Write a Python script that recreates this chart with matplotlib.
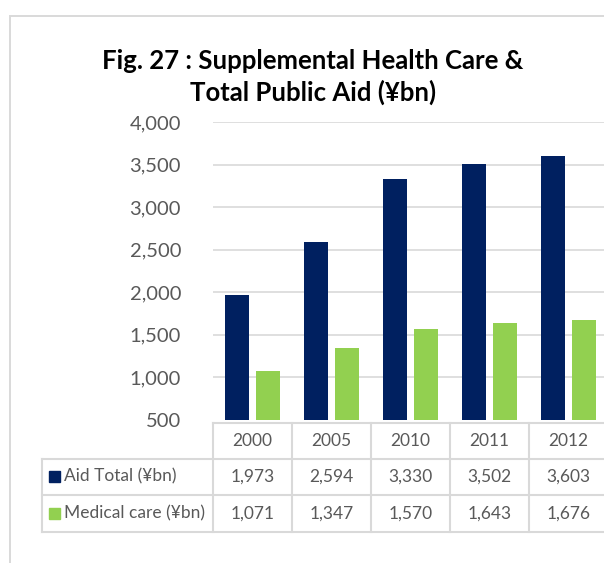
import numpy as np
import matplotlib.pyplot as plt
from matplotlib.lines import Line2D
from matplotlib.patches import Rectangle
from matplotlib.transforms import blended_transform_factory

plt.rcParams['font.family'] = ['Lato', 'DejaVu Sans']

years = ["2000", "2005", "2010", "2011", "2012"]
aid_total = [1973, 2594, 3330, 3502, 3603]
medical_care = [1071, 1347, 1570, 1643, 1676]
series_names = ["Aid Total (¥bn)", "Medical care (¥bn)"]
y_ticks = [500, 1000, 1500, 2000, 2500, 3000, 3500, 4000]

navy = '#002060'
green = '#92D050'
text_grey = '#595959'
line_grey = '#d9d9d9'

W, H = 604, 563
fig = plt.figure(figsize=(W / 100, H / 100), dpi=100)


def fx(px):
    return px / W


def fy(py):
    return 1 - py / H


# outer chart frame (only left and top edges visible)
fig.add_artist(Rectangle((fx(9.6), -0.5), 2, fy(16) + 0.5, transform=fig.transFigure,
                         fill=False, edgecolor=line_grey, lw=1.4))

# title
fig.text(fx(313), fy(69), "Fig. 27 : Supplemental Health Care &", ha='center', va='baseline',
         fontsize=18.5, fontweight='bold', color='black')
fig.text(fx(313), fy(101), "Total Public Aid (¥bn)", ha='center', va='baseline',
         fontsize=18.5, fontweight='bold', color='black')

ax = fig.add_axes([fx(213), fy(420), 395 / W, 298 / H])
x = np.arange(len(years))
ax.bar(x - 0.196, aid_total, width=0.30, color=navy, zorder=3)
ax.bar(x + 0.196, medical_care, width=0.30, color=green, zorder=3)

ax.set_xlim(-0.5, len(years) - 0.5)
ax.set_ylim(500, 4000)
ax.set_yticks(y_ticks)
ax.set_yticklabels([f"{v:,}" for v in y_ticks])
ax.set_xticks([])
ax.tick_params(axis='y', length=0, pad=23, labelsize=14.5, labelcolor=text_grey)
for s in ax.spines.values():
    s.set_visible(False)
for v in y_ticks[1:]:
    ax.axhline(v, color=line_grey, lw=1.2, zorder=1)

# data table below the plot
trans = blended_transform_factory(ax.transData, fig.transFigure)
row_tops = [423, 458.5, 495, 532]
for b in np.arange(len(years) + 1) - 0.5:
    fig.add_artist(Line2D([b, b], [fy(423), fy(532)], transform=trans, color=line_grey, lw=1.5))
fig.add_artist(Line2D([fx(213), 1], [fy(423), fy(423)], transform=fig.transFigure,
                      color=line_grey, lw=1.5))
for yy in row_tops[1:]:
    fig.add_artist(Line2D([fx(42), 1], [fy(yy), fy(yy)], transform=fig.transFigure,
                          color=line_grey, lw=1.5))
fig.add_artist(Line2D([fx(42), fx(42)], [fy(458.5), fy(532)], transform=fig.transFigure,
                      color=line_grey, lw=1.5))

for i, yr in enumerate(years):
    fig.text(i, fy(441), yr, transform=trans, ha='center', va='center',
             fontsize=12.5, color=text_grey)

rows = [aid_total, medical_care]
colors = [navy, green]
for r, (name, vals, c) in enumerate(zip(series_names, rows, colors)):
    yc = (row_tops[r + 1] + row_tops[r + 2]) / 2
    fig.add_artist(Rectangle((fx(49), fy(yc + 5.5)), 11 / W, 11 / H,
                             transform=fig.transFigure, color=c))
    fig.text(fx(63.5), fy(yc), name, ha='left', va='center', fontsize=12.5, color=text_grey)
    for i, v in enumerate(vals):
        fig.text(i, fy(yc), f"{v:,}", transform=trans, ha='center', va='center',
                 fontsize=12.5, color=text_grey)

fig.savefig('out.png', dpi=100)
